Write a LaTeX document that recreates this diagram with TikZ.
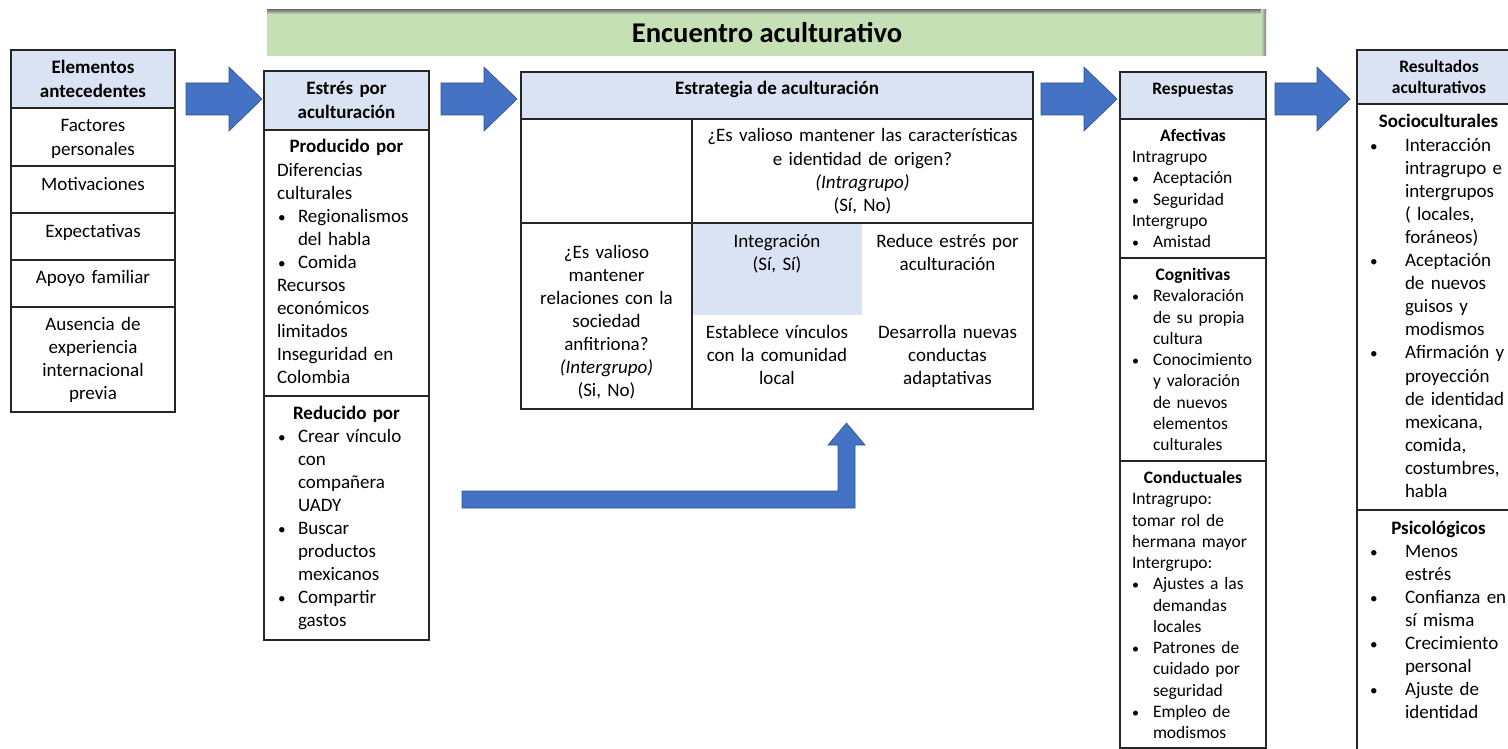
\documentclass[tikz,border=0pt]{standalone}
\usepackage{fontspec}
\setmainfont{Carlito}
\usetikzlibrary{calc}
\definecolor{hdrblue}{HTML}{DAE3F3}
\definecolor{titlegreen}{HTML}{C5E0B4}
\definecolor{arrowblue}{HTML}{4472C4}
\definecolor{arrowedge}{HTML}{2F528F}
% bullet items with hanging indent
\newlength\bulind
\newlength\bulpre
\newcommand{\bl}[1]{\par\hangindent=\bulind\hangafter=1\noindent\hbox to\bulind{\hskip\bulpre\scalebox{0.8}{\textbullet}\hfil}#1\par}
\newcommand{\hd}[1]{{\centering\bfseries #1\par}}
% block arrow pointing right between two coordinates
\newcommand{\blockarrow}[2]{\path[arr] let \p1=(#1), \p2=(#2) in
  (\x1,\y1+16pt) -- (\x2-33pt,\y1+16pt) -- (\x2-33pt,\y1+32pt) -- (\x2,\y1)
  -- (\x2-33pt,\y1-32pt) -- (\x2-33pt,\y1-16pt) -- (\x1,\y1-16pt) -- cycle;}

\begin{document}
\begin{tikzpicture}[x=1pt,y=-1pt,
  box/.style={draw=black!85, line width=1.2pt, anchor=north west, inner sep=0, outer sep=0},
  head/.style={box, fill=hdrblue},
  body/.style={font=\fontsize{19}{23.1}\selectfont},
  bbody/.style={font=\fontsize{19}{23.1}\selectfont\bfseries},
  small/.style={font=\fontsize{17.5}{21.25}\selectfont},
  bsmall/.style={font=\fontsize{17.5}{21.25}\selectfont\bfseries},
  txt/.style={inner sep=0, outer sep=0, anchor=base west, align=left},
  ctxt/.style={inner sep=0, outer sep=0, anchor=base, align=center},
  arr/.style={fill=arrowblue, draw=arrowedge, line width=0.6pt, line join=miter}]

\useasboundingbox (0,0) rectangle (1508,749);

% title bar
\fill[titlegreen] (267,10) rectangle (1266,56);
\shade[top color=gray, bottom color=titlegreen] (267,10) rectangle (1266,14);
\shade[left color=titlegreen, right color=gray] (1261,10) rectangle (1266,56);
\node[ctxt, font=\fontsize{28.6}{34}\selectfont\bfseries] (title) at (767,43) {Encuentro aculturativo};

% antecedents
\node[head, minimum width=164pt, minimum height=58pt] (anth) at (11,50) {};
\node[box, minimum width=164pt, minimum height=58pt] (ant1) at (11,108) {};
\node[box, minimum width=164pt, minimum height=47pt] (ant2) at (11,166) {};
\node[box, minimum width=164pt, minimum height=47pt] (ant3) at (11,213) {};
\node[box, minimum width=164pt, minimum height=47pt] (ant4) at (11,260) {};
\node[box, minimum width=164pt, minimum height=105pt] (ant5) at (11,307) {};
\node[ctxt, bbody, text width=150pt] (antht) at (93,74) {Elementos\\antecedentes};
\node[ctxt, body, text width=150pt] (ant1t) at (93,132) {Factores\\personales};
\node[ctxt, body, text width=150pt] (ant2t) at (93,190) {Motivaciones};
\node[ctxt, body, text width=150pt] (ant3t) at (93,237) {Expectativas};
\node[ctxt, body, text width=150pt] (ant4t) at (93,283) {Apoyo familiar};
\node[ctxt, body, text width=150pt] (ant5t) at (93,330) {Ausencia de\\experiencia\\internacional\\previa};

% acculturative stress
\node[head, minimum width=165pt, minimum height=59pt] (esth) at (264,71) {};
\node[box, minimum width=165pt, minimum height=266pt] (estp) at (264,130) {};
\node[box, minimum width=165pt, minimum height=244pt] (estr) at (264,396) {};
\node[ctxt, bbody, text width=150pt] (estht) at (346.5,95) {Estrés por\\aculturación};
\node[txt, body, text width=139pt] (estpt) at (277,153) {\setlength\bulind{21pt}\setlength\bulpre{1pt}%
  \hd{Producido por}Diferencias\\culturales\bl{Regionalismos\newline del habla}\bl{Comida}Recursos\\económicos\\limitados\\Inseguridad en\\Colombia};
\node[txt, body, text width=139pt] (estrt) at (277,419) {\setlength\bulind{21pt}\setlength\bulpre{1pt}%
  \hd{Reducido por}\bl{Crear vínculo\newline con\newline compañera\newline UADY}\bl{Buscar\newline productos\newline mexicanos}\bl{Compartir\newline gastos}};

% acculturation strategy table
\node[head, minimum width=512pt, minimum height=47pt] (strh) at (521,72) {};
\node[fill=hdrblue, anchor=north west, inner sep=0, outer sep=0, minimum width=170pt, minimum height=92pt] (integ) at (692,223) {};
\node[box, minimum width=171pt, minimum height=104pt] (c11) at (521,119) {};
\node[box, minimum width=341pt, minimum height=104pt] (c12) at (692,119) {};
\node[box, minimum width=171pt, minimum height=186pt] (c21) at (521,223) {};
\node[box, minimum width=341pt, minimum height=186pt] (c22) at (692,223) {};
\node[ctxt, bbody] (strht) at (777,95) {Estrategia de aculturación};
\node[ctxt, body, text width=330pt] (c12t) at (862.5,142) {¿Es valioso mantener las características\\e identidad de origen?\\\textit{(Intragrupo)}\\(Sí, No)};
\node[ctxt, body, text width=165pt] (c21t) at (606.5,258) {¿Es valioso\\mantener\\relaciones con la\\sociedad\\anfitriona?\\\textit{(Intergrupo)}\\(Si, No)};
\node[ctxt, body, text width=165pt] (integt) at (777,247) {Integración\\(Sí, Sí)};
\node[ctxt, body, text width=165pt] (redt) at (947.5,247) {Reduce estrés por\\aculturación};
\node[ctxt, body, text width=165pt] (estt) at (777,338) {Establece vínculos\\con la comunidad\\local};
\node[ctxt, body, text width=165pt] (dest) at (947.5,338) {Desarrolla nuevas\\conductas\\adaptativas};

% responses
\node[head, minimum width=146pt, minimum height=47pt] (resh) at (1120,72) {};
\node[box, minimum width=146pt, minimum height=139pt] (resa) at (1120,119) {};
\node[box, minimum width=146pt, minimum height=203pt] (resc) at (1120,258) {};
\node[box, minimum width=146pt, minimum height=287pt] (resd) at (1120,461) {};
\node[ctxt, bsmall] (resht) at (1193,95) {Respuestas};
\node[txt, small, text width=122pt] (resat) at (1132,141.5) {\setlength\bulind{21pt}\setlength\bulpre{0pt}%
  \hd{Afectivas}Intragrupo\bl{Aceptación}\bl{Seguridad}Intergrupo\bl{Amistad}};
\node[txt, small, text width=122pt] (resct) at (1132,280.5) {\setlength\bulind{21pt}\setlength\bulpre{0pt}%
  \hd{Cognitivas}\bl{Revaloración\newline de su propia\newline cultura}\bl{Conocimiento\newline y valoración\newline de nuevos\newline elementos\newline culturales}};
\node[txt, small, text width=122pt] (resdt) at (1132,483.5) {\setlength\bulind{21pt}\setlength\bulpre{0pt}%
  \hd{Conductuales}Intragrupo:\\tomar rol de\\hermana mayor\\Intergrupo:\bl{Ajustes a las\newline demandas\newline locales}\bl{Patrones de\newline cuidado por\newline seguridad}\bl{Empleo de\newline modismos}};

% acculturative outcomes
\node[head, minimum width=155pt, minimum height=54pt] (outh) at (1357,50) {};
\node[box, minimum width=155pt, minimum height=406pt] (outs) at (1357,104) {};
\node[box, minimum width=155pt, minimum height=250pt] (outp) at (1357,510) {};
\node[ctxt, bsmall, text width=140pt] (outht) at (1439,72.5) {Resultados\\aculturativos};
\node[txt, body, text width=141pt] (outst) at (1368,128) {\setlength\bulind{37pt}\setlength\bulpre{2pt}%
  \hd{Socioculturales}\bl{Interacción\newline intragrupo e\newline intergrupos\newline ( locales,\newline foráneos)}\bl{Aceptación\newline de nuevos\newline guisos y\newline modismos}\bl{Afirmación y\newline proyección\newline de identidad\newline mexicana,\newline comida,\newline costumbres,\newline habla}};
\node[txt, body, text width=141pt] (outpt) at (1368,534) {\setlength\bulind{37pt}\setlength\bulpre{2pt}%
  \hd{Psicológicos}\bl{Menos\newline estrés}\bl{Confianza en\newline sí misma}\bl{Crecimiento\newline personal}\bl{Ajuste de\newline identidad}};

% block arrows
\coordinate (a1s) at (186,99);  \coordinate (a1e) at (262,99);
\coordinate (a2s) at (441,99);  \coordinate (a2e) at (517,99);
\coordinate (a3s) at (1041,99); \coordinate (a3e) at (1117,99);
\coordinate (a4s) at (1275,99); \coordinate (a4e) at (1350,99);
\blockarrow{a1s}{a1e}
\blockarrow{a2s}{a2e}
\blockarrow{a3s}{a3e}
\blockarrow{a4s}{a4e}

% bent arrow from the stress reducers up to the strategy table
\coordinate (bs) at (462,499.5);
\coordinate (bt) at (846.5,423);
\path[arr] let \p1=(bs), \p2=(bt) in
  (\x1,\y1+8.5pt) -- (\x2-8.5pt,\y1+8.5pt) -- (\x2-8.5pt,\y2-22pt) -- (\x2-18.5pt,\y2-22pt)
  -- (\x2,\y2) -- (\x2+18.5pt,\y2-22pt) -- (\x2+8.5pt,\y2-22pt) -- (\x2+8.5pt,\y1-8.5pt)
  -- (\x1,\y1-8.5pt) -- cycle;
\end{tikzpicture}
\end{document}
